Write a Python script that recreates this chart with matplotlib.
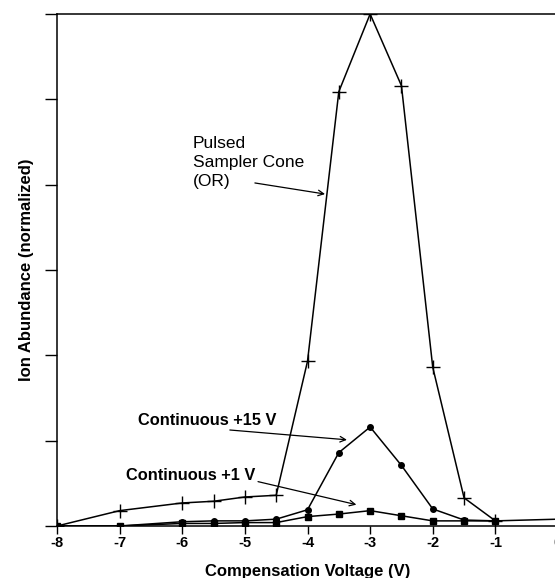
import numpy as np
import matplotlib.pyplot as plt

plt.rcParams['font.family'] = ['Liberation Sans', 'DejaVu Sans']

# compensation voltage (V)
volts = [-8, -7, -6, -5.5, -5, -4.5, -4, -3.5, -3, -2.5, -2, -1.5, -1]

# normalized ion abundance (axis units 0..6, no labels on y)
pulsed = [0, 0.18, 0.27, 0.29, 0.34, 0.36, 1.93, 5.09, 6.0, 5.16, 1.86, 0.33, 0.06]
cont15 = [0, 0, 0.05, 0.06, 0.06, 0.08, 0.19, 0.86, 1.16, 0.71, 0.20, 0.07, 0.06]
cont1 = [0, 0, 0.03, 0.03, 0.04, 0.04, 0.11, 0.14, 0.18, 0.12, 0.06, 0.06, 0.06]
tail_x = [-1, 0]
tail_y = [0.06, 0.08]

xticks = [-8, -7, -6, -5, -4, -3, -2, -1, 0]
yticks = [0, 1, 2, 3, 4, 5, 6]

fig = plt.figure(figsize=(5.55, 5.78), dpi=100)
ax = fig.add_axes([57 / 555, 52 / 578, 501 / 555, 512 / 578])

ax.plot(volts, pulsed, color='black', lw=1.1, marker='+', ms=10, mew=1.0)
ax.plot(volts, cont15, color='black', lw=1.1, marker='o', ms=4)
ax.plot(volts, cont1, color='black', lw=1.1, marker='s', ms=4.5)
ax.plot(tail_x, tail_y, color='black', lw=1.1)

ax.set_xlim(-8, 0)
ax.set_ylim(0, 6)
ax.set_xticks(xticks)
ax.set_xticklabels([str(v) for v in xticks], fontsize=10.5, fontweight='bold')
ax.set_yticks(yticks)
ax.set_yticklabels([])
ax.tick_params(axis='x', direction='out', length=6, width=1, pad=1)
ax.tick_params(axis='y', direction='out', length=9, width=1)
ax.spines['right'].set_visible(False)
for s in ['top', 'left', 'bottom']:
    ax.spines[s].set_linewidth(1.1)

ax.set_xlabel('Compensation Voltage (V)', fontsize=12, fontweight='bold', labelpad=10)
ax.set_ylabel('Ion Abundance (normalized)', fontsize=12, fontweight='bold', labelpad=4)

arrow = dict(arrowstyle='->', color='black', lw=0.9, shrinkA=0, shrinkB=0)

ax.text(-5.83, 4.26, 'Pulsed\nSampler Cone\n(OR)', fontsize=12.5, va='center', ha='left',
        linespacing=1.35)
ax.annotate('', xy=(-3.72, 3.89), xytext=(-4.84, 4.02), arrowprops=arrow)

ax.text(-6.71, 1.24, 'Continuous +15 V', fontsize=11.8, fontweight='bold', va='center', ha='left')
ax.annotate('', xy=(-3.37, 1.01), xytext=(-5.24, 1.125), arrowprops=arrow)

ax.text(-6.90, 0.59, 'Continuous +1 V', fontsize=11.8, fontweight='bold', va='center', ha='left')
ax.annotate('', xy=(-3.22, 0.25), xytext=(-4.79, 0.52), arrowprops=arrow)

fig.savefig('out.png', dpi=100)
